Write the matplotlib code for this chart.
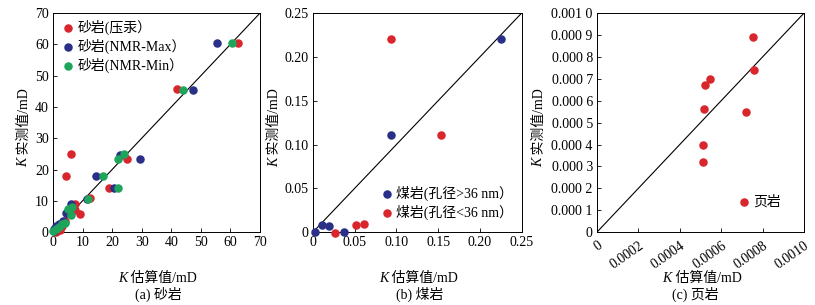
import matplotlib
matplotlib.use("Agg")
import matplotlib.pyplot as plt
import numpy as np

plt.rcParams['font.family'] = ['Liberation Serif', 'Noto Sans CJK SC']
plt.rcParams['font.size'] = 10

RED = '#d9262c'
BLUE = '#2a2f88'
GREEN = '#1ea55b'

# (a) sandstone
sand_hg_x = [62.5, 42.0, 25.0, 18.8, 6.0, 4.5, 9.3, 7.5, 12.5, 7.5, 2.0, 1.0, 3.0, 4.0, 2.5]
sand_hg_y = [60.5, 45.8, 23.5, 14.0, 25.0, 18.0, 5.8, 9.0, 10.8, 7.0, 1.5, 0.0, 2.0, 3.5, 0.8]
sand_max_x = [55.5, 47.5, 29.5, 22.5, 14.5, 20.5, 11.5, 6.0, 4.5, 5.5, 0.5, 1.0, 2.0, 3.5, 0.2]
sand_max_y = [60.5, 45.5, 23.5, 24.8, 18.0, 14.0, 10.5, 9.0, 6.0, 7.0, 1.0, 2.0, 2.5, 3.5, 0.3]
sand_min_x = [60.5, 43.8, 22.0, 24.0, 17.0, 22.0, 12.0, 6.0, 6.5, 3.0, 0.0, 1.0, 5.0, 2.0, 4.0]
sand_min_y = [60.5, 45.5, 23.5, 25.0, 18.0, 14.0, 10.5, 5.5, 8.0, 2.5, 0.5, 1.0, 7.5, 1.5, 3.0]

# (b) coal
coal_big_x = [0.003, 0.011, 0.019, 0.037, 0.093, 0.225]
coal_big_y = [0.0, 0.008, 0.007, 0.0, 0.111, 0.220]
coal_small_x = [0.027, 0.052, 0.061, 0.094, 0.153]
coal_small_y = [-0.001, 0.008, 0.009, 0.221, 0.111]

# (c) shale
shale_x = [0.000755, 0.00076, 0.000545, 0.00052, 0.000515, 0.00072, 0.00051, 0.00051]
shale_y = [0.00089, 0.00074, 0.00070, 0.00067, 0.00056, 0.00055, 0.00040, 0.00032]

fig = plt.figure(figsize=(8.15, 3.05), dpi=100)
ax1 = fig.add_axes([0.065, 0.239, 0.254, 0.718])
ax2 = fig.add_axes([0.384, 0.239, 0.256, 0.718])
ax3 = fig.add_axes([0.7325, 0.239, 0.254, 0.718])

ms = 26


def style(ax, lim):
    ax.plot([0, lim], [0, lim], color='black', lw=0.8, zorder=1)
    ax.set_xlim(0, lim)
    ax.set_ylim(0, lim)
    ax.tick_params(direction='in', top=False, right=False, length=3, width=0.6, pad=3)
    for s in ax.spines.values():
        s.set_linewidth(0.7)


def add_labels(ax, ylabel_x, xlabel_y):
    # italic K followed by the Chinese part of the label
    ax.text(0.36, xlabel_y, 'K', style='italic', transform=ax.transAxes, ha='right', va='center')
    ax.text(0.36, xlabel_y, ' 估算值/mD', transform=ax.transAxes, ha='left', va='center')
    ax.text(ylabel_x, 0.34, 'K', style='italic', transform=ax.transAxes, ha='center', va='top',
            rotation=90)
    ax.text(ylabel_x, 0.34, ' 实测值/mD', transform=ax.transAxes, ha='center', va='bottom',
            rotation=90)


style(ax1, 70)
ax1.scatter(sand_hg_x, sand_hg_y, s=ms, color=RED, label='砂岩(压汞）', clip_on=False, zorder=3)
ax1.scatter(sand_max_x, sand_max_y, s=ms, color=BLUE, label='砂岩(NMR-Max）', clip_on=False, zorder=3)
ax1.scatter(sand_min_x, sand_min_y, s=ms, color=GREEN, label='砂岩(NMR-Min）', clip_on=False, zorder=3)
ax1.set_xticks(np.arange(0, 71, 10))
ax1.set_yticks(np.arange(0, 71, 10))
ax1.legend(loc='upper left', frameon=False, handletextpad=0.1, borderaxespad=0.2,
           labelspacing=0.25, borderpad=0.3, handlelength=1.2)
add_labels(ax1, -0.14, -0.21)

style(ax2, 0.25)
ax2.scatter(coal_big_x, coal_big_y, s=ms, color=BLUE, label='煤岩(孔径>36 nm）', clip_on=False, zorder=3)
ax2.scatter(coal_small_x, coal_small_y, s=ms, color=RED, label='煤岩(孔径<36 nm）', clip_on=False, zorder=3)
ticks_b = [0, 0.05, 0.10, 0.15, 0.20, 0.25]
labels_b = ['0', '0.05', '0.10', '0.15', '0.20', '0.25']
ax2.set_xticks(ticks_b, labels_b)
ax2.set_yticks(ticks_b, labels_b)
ax2.legend(loc='lower right', bbox_to_anchor=(1.02, 0.0), frameon=False, handletextpad=0.1,
           labelspacing=0.25, handlelength=1.2)
add_labels(ax2, -0.185, -0.21)

style(ax3, 0.001)
ax3.scatter(shale_x, shale_y, s=ms, color=RED, label='页岩', clip_on=False, zorder=3)
yt = np.linspace(0, 0.001, 11)
ylabels_c = ['0', '0.000 1', '0.000 2', '0.000 3', '0.000 4', '0.000 5',
             '0.000 6', '0.000 7', '0.000 8', '0.000 9', '0.001 0']
ax3.set_yticks(yt, ylabels_c)
xt = np.linspace(0, 0.001, 6)
xlabels_c = ['0', '0.0002', '0.0004', '0.0006', '0.0008', '0.0010']
ax3.set_xticks(xt, xlabels_c, rotation=35, ha='right', rotation_mode='anchor')
ax3.tick_params(axis='x', pad=5)
ax3.legend(loc='lower right', bbox_to_anchor=(0.95, 0.05), frameon=False, handletextpad=0.1,
           handlelength=1.2)
add_labels(ax3, -0.28, -0.21)

fig.text(0.194, 0.036, '(a) 砂岩', ha='center', va='center')
fig.text(0.515, 0.036, '(b) 煤岩', ha='center', va='center')
fig.text(0.853, 0.036, '(c) 页岩', ha='center', va='center')

fig.savefig('out.png', dpi=100)
